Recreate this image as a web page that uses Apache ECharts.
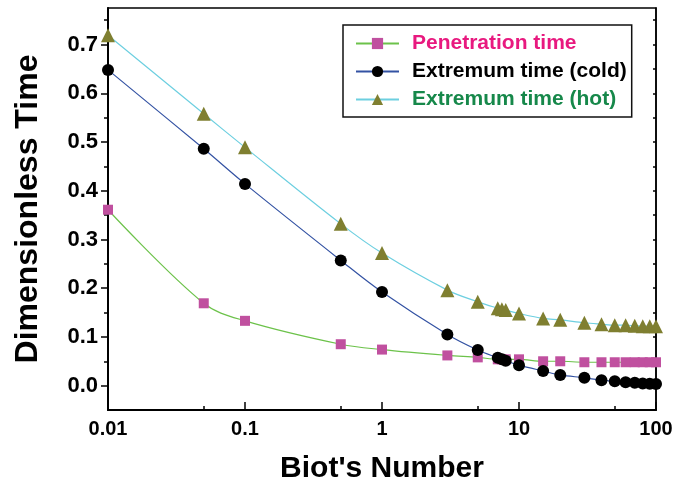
<!DOCTYPE html>
<html>
<head>
<meta charset="utf-8">
<script src="https://cdn.jsdelivr.net/npm/echarts@6/dist/echarts.min.js"></script>
<style>
html,body{margin:0;padding:0;background:#fff;}
#chart{width:676px;height:484px;}
</style>
</head>
<body>
<div id="chart"></div>
<script>
// Biot's number values (x)
const biot = [0.01, 0.05, 0.1, 0.5, 1, 3, 5, 7, 7.5, 8, 10, 15, 20, 30, 40, 50, 60, 70, 80, 90, 100];
// Dimensionless times (y)
const penetration = [0.361, 0.169, 0.133, 0.085, 0.074, 0.062, 0.058, 0.054, 0.054, 0.054, 0.054, 0.050, 0.050, 0.048, 0.048, 0.048, 0.048, 0.048, 0.048, 0.048, 0.048];
const extremumCold = [0.648, 0.486, 0.414, 0.257, 0.192, 0.105, 0.073, 0.057, 0.054, 0.051, 0.042, 0.030, 0.022, 0.016, 0.011, 0.009, 0.007, 0.006, 0.0045, 0.004, 0.0035];
const extremumHot = [0.719, 0.558, 0.489, 0.332, 0.272, 0.196, 0.172, 0.159, 0.157, 0.155, 0.148, 0.138, 0.135, 0.129, 0.126, 0.124, 0.124, 0.123, 0.122, 0.122, 0.122];
const seriesNames = ['Penetration time', 'Extremum time (cold)', 'Extremum time (hot)'];
// tick values
const yMajorTicks = [0, 0.1, 0.2, 0.3, 0.4, 0.5, 0.6, 0.7];
const yMinorTicks = [0.05, 0.15, 0.25, 0.35, 0.45, 0.55, 0.65, 0.75];
const xMinorTicks = [0.05, 0.5, 5, 50];

const FONT = '"Liberation Sans", Arial, Helvetica, sans-serif';
const chart = echarts.init(document.getElementById('chart'), null, {renderer: 'canvas'});

function pairs(ys) { return biot.map((x, i) => [x, ys[i]]); }

const yAll = yMajorTicks.concat(yMinorTicks);

const option = {
  backgroundColor: '#fff',
  animation: false,
  grid: {left: 108, right: 20, top: 8, bottom: 74, containLabel: false, outerBoundsMode: 'none',
         show: true, borderColor: '#000', borderWidth: 1.5, backgroundColor: 'transparent'},
  legend: {
    left: 343, top: 25, orient: 'vertical',
    borderColor: '#111', borderWidth: 1.5, padding: [8, 5, 7, 12],
    itemWidth: 43, itemHeight: 14, itemGap: 7,
    textStyle: {fontSize: 21, fontWeight: 'bold', fontFamily: FONT, padding: [0, 0, 0, 8]},
    data: [
      {name: seriesNames[0], textStyle: {color: '#e8197f'}},
      {name: seriesNames[1], textStyle: {color: '#000'}},
      {name: seriesNames[2], textStyle: {color: '#16884a'}}
    ]
  },
  xAxis: [
    {
      type: 'log', logBase: 10, min: 0.01, max: 100, position: 'bottom',
      name: "Biot's Number", nameLocation: 'middle', nameGap: 44,
      nameTextStyle: {fontSize: 30, fontWeight: 'bold', fontFamily: FONT, color: '#000'},
      axisLine: {show: true, onZero: false, lineStyle: {color: '#000', width: 2}},
      axisTick: {show: true, inside: true, length: 8, lineStyle: {color: '#000', width: 1.5}},
      minorTick: {show: false},
      axisLabel: {show: true, margin: 9, fontSize: 20, fontWeight: 'bold', fontFamily: FONT, color: '#000',
                  formatter: v => String(v)},
      splitLine: {show: false}
    },
    {
      type: 'value', min: -2, max: 2, position: 'bottom',
      axisLine: {show: false, onZero: false},
      axisTick: {show: true, inside: true, length: 4, lineStyle: {color: '#000', width: 1.5},
                 customValues: xMinorTicks.map(Math.log10)},
      axisLabel: {show: false},
      splitLine: {show: false}
    }
  ],
  yAxis: [
    {
      type: 'value', min: -0.05, max: 0.775, position: 'left',
      name: 'Dimensionless Time', nameLocation: 'middle', nameGap: 64, nameRotate: 90,
      nameTextStyle: {fontSize: 32, fontWeight: 'bold', fontFamily: FONT, color: '#000'},
      axisLine: {show: true, onZero: false, lineStyle: {color: '#000', width: 2}},
      axisTick: {show: true, inside: false, length: 7, lineStyle: {color: '#000', width: 1.5},
                 customValues: yMajorTicks},
      axisLabel: {show: true, margin: 10, fontSize: 22, fontWeight: 'bold', fontFamily: FONT, color: '#000',
                  customValues: yMajorTicks, formatter: v => Number(v).toFixed(1)},
      splitLine: {show: false}
    },
    {
      type: 'value', min: -0.05, max: 0.775, position: 'left',
      axisLine: {show: false, onZero: false},
      axisTick: {show: true, inside: false, length: 4, lineStyle: {color: '#000', width: 1.5},
                 customValues: yMinorTicks},
      axisLabel: {show: false},
      splitLine: {show: false}
    },
    {
      type: 'value', min: -0.05, max: 0.775, position: 'right',
      axisLine: {show: true, onZero: false, lineStyle: {color: '#000', width: 1.5}},
      axisTick: {show: true, inside: true, length: 3, lineStyle: {color: '#000', width: 1.5},
                 customValues: yAll},
      axisLabel: {show: false},
      splitLine: {show: false}
    }
  ],
  series: [
    {
      name: seriesNames[0], type: 'line', xAxisIndex: 0, yAxisIndex: 0,
      data: pairs(penetration), smooth: 0.35, symbol: 'rect', symbolSize: 10,
      lineStyle: {color: '#6cc24a', width: 1.2},
      itemStyle: {color: '#c0509f'}
    },
    {
      name: seriesNames[1], type: 'line', xAxisIndex: 0, yAxisIndex: 0,
      data: pairs(extremumCold), smooth: 0.35, symbol: 'circle', symbolSize: 12,
      lineStyle: {color: '#3352a3', width: 1.2},
      itemStyle: {color: '#000'}
    },
    {
      name: seriesNames[2], type: 'line', xAxisIndex: 0, yAxisIndex: 0,
      data: pairs(extremumHot), smooth: 0.35, symbol: 'triangle', symbolSize: 14,
      lineStyle: {color: '#6dcfe0', width: 1.2},
      itemStyle: {color: '#7f7f30'}
    }
  ]
};
chart.setOption(option);
</script>
</body>
</html>
